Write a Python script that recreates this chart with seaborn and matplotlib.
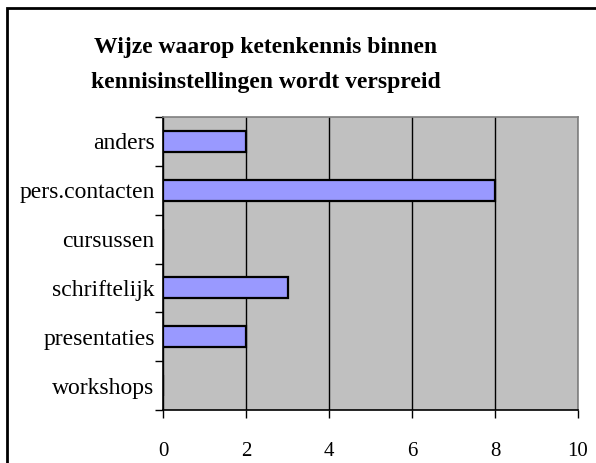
import matplotlib
matplotlib.use("Agg")
import matplotlib.pyplot as plt
import seaborn as sns
import pandas as pd
from matplotlib.patches import Rectangle

categories = ["anders", "pers.contacten", "cursussen", "schriftelijk", "presentaties", "workshops"]
values = [2, 8, 0, 3, 2, 0]
xticks = [0, 2, 4, 6, 8, 10]
title = "Wijze waarop ketenkennis binnen\nkennisinstellingen wordt verspreid"

sns.set_style("white")
plt.rcParams["font.family"] = ["Liberation Serif", "DejaVu Serif"]
plt.rcParams["text.color"] = "black"
plt.rcParams["xtick.color"] = "black"
plt.rcParams["ytick.color"] = "black"
plt.rcParams["xtick.labelsize"] = 15
plt.rcParams["ytick.labelsize"] = 17

df = pd.DataFrame({"cat": categories, "val": values})

fig = plt.figure(figsize=(5.96, 4.63), dpi=100)
fig.patch.set_facecolor("white")
ax = fig.add_axes([163/596, 53/463, 415/596, 293/463])
ax.set_facecolor("#c0c0c0")

sns.barplot(data=df, x="val", y="cat", order=categories, orient="h",
            color="#9999ff", saturation=1, width=0.43,
            edgecolor="black", linewidth=1.6, ax=ax, zorder=3)

ax.set_xlim(0, 10)
ax.set_ylim(len(categories) - 0.5, -0.5)
ax.set_xticks(xticks)
ax.set_xticklabels([str(t) for t in xticks])
ax.grid(axis="x", color="black", linewidth=1, zorder=1)
ax.set_axisbelow(True)
ax.set_xlabel("")
ax.set_ylabel("")

ax.set_yticks(range(len(categories)))
ax.set_yticklabels(categories)
ax.tick_params(axis="y", which="major", left=True, length=0, pad=6, labelsize=17)
ax.set_yticks([i - 0.5 for i in range(len(categories) + 1)], minor=True)
ax.tick_params(axis="y", which="minor", left=True, length=6, width=1,
               direction="out", color="black")
ax.tick_params(axis="x", bottom=True, length=6, width=1, direction="out",
               color="black", pad=17, labelsize=15)

for s in ["left", "bottom"]:
    ax.spines[s].set_color("black")
    ax.spines[s].set_linewidth(1.2)
for s in ["top", "right"]:
    ax.spines[s].set_color("#808080")
    ax.spines[s].set_linewidth(1.2)
    ax.spines[s].set_visible(True)

fig.text(266/596, 1 - 65/463, title, ha="center", va="center", color="black",
         fontsize=17, fontweight="bold", linespacing=1.85)

fig.patches.append(Rectangle((7.5/596, -0.1), 1.2, (463 - 7.5)/463 + 0.1,
                             transform=fig.transFigure, fill=False,
                             edgecolor="black", linewidth=2))

fig.savefig("out.png", dpi=100)
